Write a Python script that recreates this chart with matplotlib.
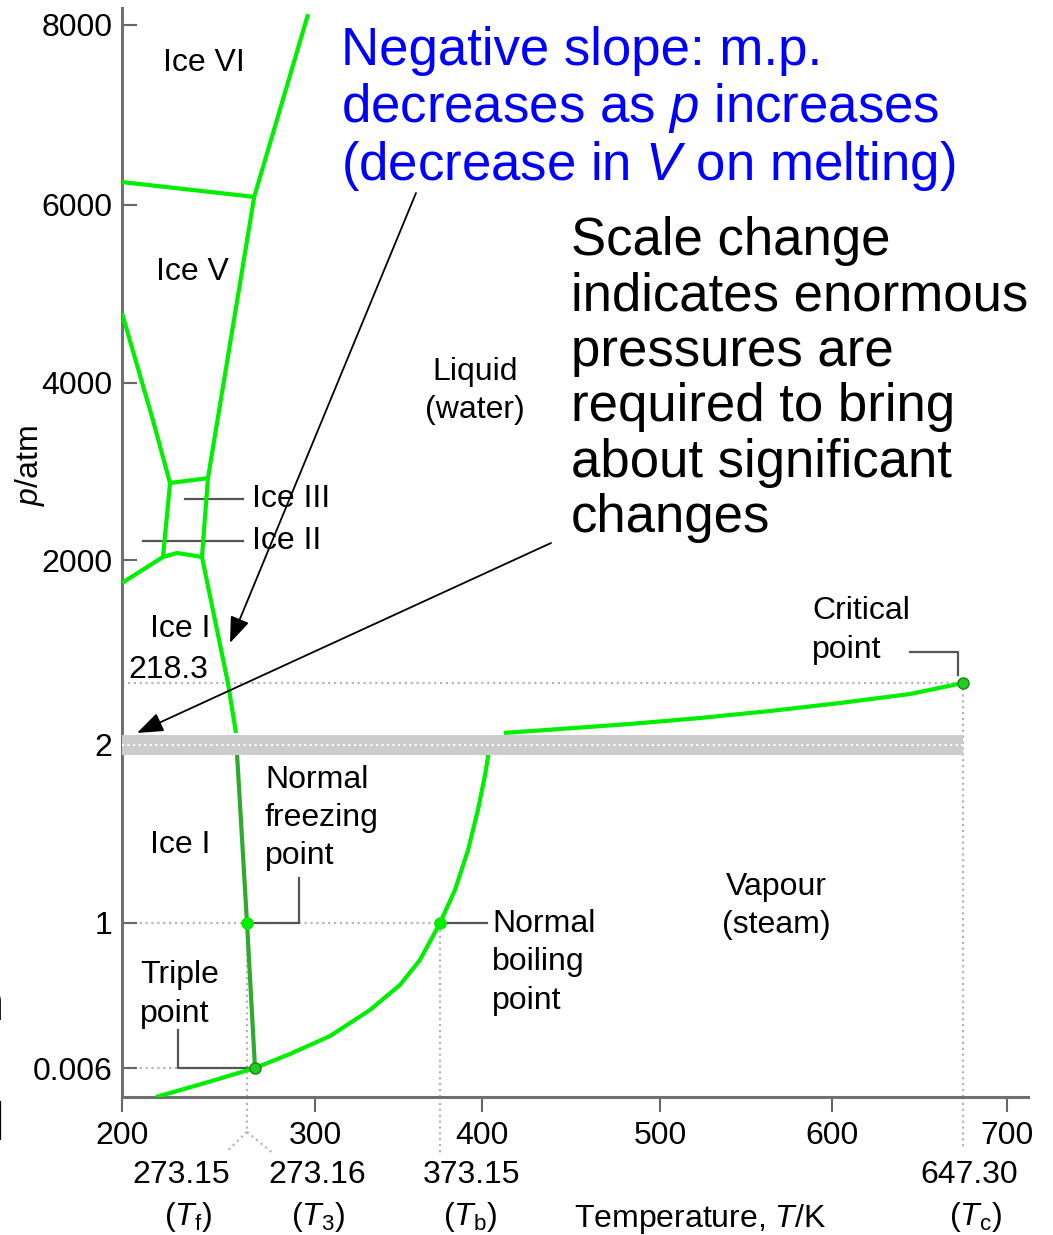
import numpy as np
import matplotlib.pyplot as plt

plt.rcParams['font.family'] = ['Liberation Sans', 'DejaVu Sans']
plt.rcParams['mathtext.fontset'] = 'custom'
plt.rcParams['mathtext.rm'] = 'Liberation Sans'
plt.rcParams['mathtext.it'] = 'Liberation Sans:italic'

# phase boundaries, T in K and p in atm (schematic diagram)
ice6_liquid_T = [273.159, 296.9]
ice6_liquid_p = [6090, 8120]
ice5_ice6_T = [200, 273.159]
ice5_ice6_p = [6255, 6090]
ice5_liquid_T = [273.159, 250.3]
ice5_liquid_p = [6090, 2925]
ice2_ice5_T = [200, 217.6, 228.1]
ice2_ice5_p = [4785, 3615, 2870]
ice3_ice5_T = [228.1, 250.3]
ice3_ice5_p = [2870, 2925]
ice2_ice3_T = [228.1, 224.0]
ice2_ice3_p = [2870, 2034]
ice3_liquid_T = [250.3, 246.8]
ice3_liquid_p = [2925, 2034]
ice1_ice3_T = [224.0, 232.2, 246.8]
ice1_ice3_p = [2034, 2079, 2034]
ice1_ice2_T = [200, 224.0]
ice1_ice2_p = [1667, 2034]
ice1_liquid_T = [246.8, 262.0, 266.7]
ice1_liquid_p = [2034, 218.3, 44]

melting_T = [267.0, 273.15, 273.16]
melting_p = [2, 1, 0.006]
sublim_T = [219.9, 248.6, 273.16]
sublim_p = [0.0, 0.0029, 0.006]
vap_low_T = [273.16, 288.8, 308.8, 332.2, 349.7, 361.4, 373.15, 382.7, 391.1, 397.4, 401.7, 404.5]
vap_low_p = [0.006, 0.102, 0.225, 0.404, 0.575, 0.746, 1, 1.185, 1.410, 1.635, 1.831, 2]
vap_high_T = [412.4, 443.8, 483.1, 523.3, 564.0, 602.9, 628.2, 647.3]
vap_high_p = [44, 57.8, 75.3, 96.2, 120.6, 148.5, 179.9, 218.3]

# T3, Tf, Tb, Tc
point_T = [273.16, 273.15, 373.15, 647.30]
point_p = [0.006, 1, 1, 218.3]
point_lbl = ['273.16', '273.15', '373.15', '647.30']
point_sym = ['3', 'f', 'b', 'c']

xticks = [200, 300, 400, 500, 600, 700]
yticks = [0.006, 1, 2, 2000, 4000, 6000, 8000]
ytick_lbl = ['0.006', '1', '2', '2000', '4000', '6000', '8000']

# the drawing is not to scale: piecewise axis (value -> pixels along the axis)
x_anchor_T = [200, 273.15, 273.16, 300, 373.15, 400, 500, 600, 647.30, 700]
x_anchor_px = [0, 125, 133, 193, 318, 360, 538, 710, 841, 885]
y_anchor_p = [0, 0.006, 1, 2, 218.3, 2000, 4000, 6000, 8000]
y_anchor_px = [0, 29, 174, 352, 414, 537, 714, 892, 1072]


def pwl(v, xp, fp):
    v = np.asarray(v, dtype=float)
    out = np.interp(v, xp, fp)
    lo = fp[0] + (v - xp[0]) * (fp[1] - fp[0]) / (xp[1] - xp[0])
    hi = fp[-1] + (v - xp[-1]) * (fp[-1] - fp[-2]) / (xp[-1] - xp[-2])
    out = np.where(v < xp[0], lo, out)
    out = np.where(v > xp[-1], hi, out)
    return out


fx = lambda v: pwl(v, x_anchor_T, x_anchor_px)
ifx = lambda v: pwl(v, x_anchor_px, x_anchor_T)
fy = lambda v: pwl(v, y_anchor_p, y_anchor_px)
ify = lambda v: pwl(v, y_anchor_px, y_anchor_p)

W, H = 1053, 1235
fig = plt.figure(figsize=(W / 100, H / 100), dpi=100)
ax = fig.add_axes([122 / W, 138 / H, 906 / W, 1089 / H])
ax.set_xscale('function', functions=(fx, ifx))
ax.set_yscale('function', functions=(fy, ify))
ax.set_xlim(200, float(ifx(906)))
ax.set_ylim(0, float(ify(1089)))

for s in ['top', 'right']:
    ax.spines[s].set_visible(False)
for s in ['left', 'bottom']:
    ax.spines[s].set_color('#707070')
    ax.spines[s].set_linewidth(2.2)

ax.set_xticks(xticks)
ax.set_xticklabels([str(t) for t in xticks])
ax.set_yticks(yticks)
ax.set_yticklabels(ytick_lbl)
ax.minorticks_off()
ax.tick_params(axis='x', direction='out', length=11, width=1.5, color='#666666', labelsize=23, pad=6)
ax.tick_params(axis='y', direction='in', length=11, width=1.5, color='#666666', labelsize=23, pad=7)

ax.set_xlabel('Temperature, $T$/K', fontsize=23)
ax.xaxis.set_label_coords(0.638, -0.096)
ax.set_ylabel('$p$/atm', fontsize=23)
ax.yaxis.set_label_coords(-0.083, 0.58)

# dotted guides
dot = dict(color='#b5b5b5', ls=':', lw=1.6, zorder=1)
ax.plot([200, point_T[2]], [1, 1], **dot)
ax.plot([200, point_T[0]], [point_p[0], point_p[0]], **dot)
ax.plot([200, point_T[3]], [point_p[3], point_p[3]], **dot)
ax.plot([point_T[1], point_T[1]], [0, 1], **dot)
ax.plot([point_T[2], point_T[2]], [0, 1], **dot)
ax.plot([point_T[3], point_T[3]], [0, point_p[3]], **dot)
xt = ax.get_xaxis_transform()
ax.plot([point_T[1], point_T[1]], [0, -0.032], transform=xt, clip_on=False, **dot)
ax.plot([point_T[1], 262.0], [-0.032, -0.049], transform=xt, clip_on=False, **dot)
ax.plot([point_T[1], 280.8], [-0.032, -0.051], transform=xt, clip_on=False, **dot)
ax.plot([point_T[2], point_T[2]], [0, -0.053], transform=xt, clip_on=False, **dot)
ax.plot([point_T[3], point_T[3]], [0, -0.049], transform=xt, clip_on=False, **dot)

# scale-change band at p = 2
ax.hlines(2, 200, point_T[3], color='#cccccc', lw=14.4, zorder=4)
ax.hlines(2, 200, point_T[3], color='white', ls=':', lw=1.5, zorder=4)

green = '#00ee00'
gkw = dict(color=green, lw=3, zorder=3, solid_capstyle='butt', solid_joinstyle='round')
for T, p in [(ice6_liquid_T, ice6_liquid_p), (ice5_ice6_T, ice5_ice6_p),
             (ice5_liquid_T, ice5_liquid_p), (ice2_ice5_T, ice2_ice5_p),
             (ice3_ice5_T, ice3_ice5_p), (ice2_ice3_T, ice2_ice3_p),
             (ice3_liquid_T, ice3_liquid_p), (ice1_ice3_T, ice1_ice3_p),
             (ice1_ice2_T, ice1_ice2_p), (ice1_liquid_T, ice1_liquid_p),
             (sublim_T, sublim_p), (vap_low_T, vap_low_p), (vap_high_T, vap_high_p)]:
    ax.plot(T, p, **gkw)
ax.plot(melting_T, melting_p, color='#2eaa2e', lw=3, zorder=3)

ax.plot(point_T[1:3], point_p[1:3], 'o', color=green, ms=8, mec=green, zorder=5)
ax.plot([point_T[0], point_T[3]], [point_p[0], point_p[3]], 'o', color='#22cc22',
        mec='#118811', ms=8, zorder=5)

# leader lines
lead = dict(color='#555555', lw=1.6, zorder=2)
ax.plot([232.8, 232.8, point_T[0]], [0.266, point_p[0], point_p[0]], **lead)
ax.plot([point_T[1], 292.8, 292.8], [1, 1, 1.253], **lead)
ax.plot([point_T[2], 402.8], [1, 1], **lead)
ax.plot([628.2, 645.5, 645.5], [667, 667, 334], **lead)
ax.plot([236.9, 270.8], [2689, 2689], **lead)
ax.plot([212.3, 270.8], [2215, 2215], **lead)

fs = 23
ls = 1.36
ax.text(248.0, 7578, 'Ice VI', fontsize=fs, ha='center', va='center')
ax.text(241.5, 5247, 'Ice V', fontsize=fs, ha='center', va='center')
ax.text(395.5, 3910, 'Liquid\n(water)', fontsize=fs, ha='center', va='center', linespacing=ls)
ax.annotate('Ice III', xy=(270.8, 2689), xytext=(9, 0), textcoords='offset pixels',
            fontsize=fs, va='center', ha='left')
ax.annotate('Ice II', xy=(270.8, 2215), xytext=(9, 0), textcoords='offset pixels',
            fontsize=fs, va='center', ha='left')
ax.text(233.9, 1000, 'Ice I', fontsize=fs, ha='center', va='center')
ax.annotate('218.3', xy=(200, point_p[3]), xytext=(46, 5), textcoords='offset pixels',
            fontsize=fs, ha='center', va='baseline')
ax.text(233.9, 1.438, 'Ice I', fontsize=fs, ha='center', va='center')
ax.text(277.6, 1.59, 'Normal\nfreezing\npoint', fontsize=fs, ha='left', va='center', linespacing=ls)
ax.text(405.6, 0.73, 'Normal\nboiling\npoint', fontsize=fs, ha='left', va='center', linespacing=ls)
ax.text(567.4, 1.096, 'Vapour\n(steam)', fontsize=fs, ha='center', va='center', linespacing=ls)
ax.text(588.4, 980, 'Critical\npoint', fontsize=fs, ha='left', va='center', linespacing=ls)
ax.text(210.5, 0.51, 'Triple\npoint', fontsize=fs, ha='left', va='center', linespacing=ls)

# special temperatures under the axis
num_dx = [62, -66, 32, 6]
sym_dx = [63, -59, 30, 13]
for T, lbl, sym, dn, ds in zip(point_T, point_lbl, point_sym, num_dx, sym_dx):
    ax.annotate(lbl, xy=(T, 0), xycoords=xt, xytext=(dn, -78), textcoords='offset pixels',
                fontsize=fs, ha='center', va='center', annotation_clip=False)
    ax.annotate('($T_{\\rm ' + sym + '}$)', xy=(T, 0), xycoords=xt, xytext=(ds, -120),
                textcoords='offset pixels', fontsize=fs, ha='center', va='center',
                annotation_clip=False)

# slide annotations
fig.text(341 / W, 1 - 26 / H, 'Negative slope: m.p.\ndecreases as $p$ increases\n(decrease in $V$ on melting)',
         fontsize=38, color='#0000ff', ha='left', va='top', linespacing=1.11)
fig.text(571 / W, 1 - 216 / H, 'Scale change\nindicates enormous\npressures are\nrequired to bring\nabout significant\nchanges',
         fontsize=38, color='black', ha='left', va='top', linespacing=1.14)
fig.text(4 / W, 1 - 1020 / H, 'n', fontsize=38, ha='right', va='baseline')
fig.text(4 / W, 1 - 1140 / H, 'l', fontsize=38, ha='right', va='baseline')

arr = dict(arrowstyle='-|>,head_length=0.8,head_width=0.3', color='black', lw=1.3,
           mutation_scale=20, shrinkA=0, shrinkB=0)
ax.annotate('', xy=(263.2, 798), xytext=(416, H - 193), textcoords='figure pixels', arrowprops=arr)
ax.annotate('', xy=(208.8, 44), xytext=(551, H - 543), textcoords='figure pixels', arrowprops=arr)

fig.savefig('out.png', dpi=100)
